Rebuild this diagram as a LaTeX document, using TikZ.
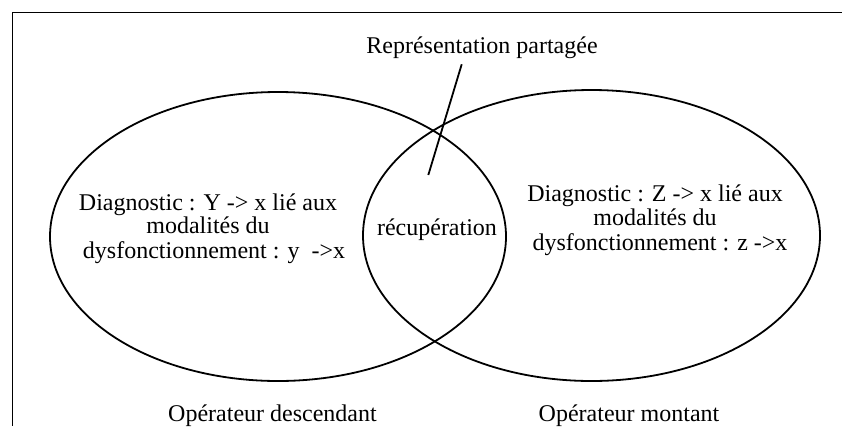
\documentclass[tikz,border=0pt]{standalone}
\usepackage{fontspec}
\setmainfont{Liberation Serif}
\begin{document}
\begin{tikzpicture}[x=1pt,y=-1pt,
  stroke/.style={line width=1.8pt,black},
  lbl/.style={inner sep=0pt,anchor=base,font=\fontsize{24}{24}\selectfont}]
\useasboundingbox (0,0) rectangle (842,426);
% frame
\draw[stroke] (842,12.5) -- (12.5,12.5) -- (12.5,426);
% ellipses
\draw[stroke] (278,236.5) ellipse [x radius=228, y radius=144.5];
\draw[stroke] (591.5,235.5) ellipse [x radius=228.5, y radius=145.5];
% texts
\node[lbl] (shared) at (482,53) {Représentation partagée};
\coordinate (ptr1) at (461.7,64.3);
\coordinate (ptr2) at (428.3,175);
\draw[stroke] (ptr1) -- (ptr2);
\node[lbl] (recup) at (437,235) {récupération};
\node[lbl] (l1) at (208,210) {Diagnostic : Y -> x lié aux};
\node[lbl] (l2) at (208,233) {modalités du};
\node[lbl] (l3) at (214,258) {dysfonctionnement : y \ ->x};
\node[lbl] (r1) at (655,201) {Diagnostic : Z -> x lié aux};
\node[lbl] (r2) at (655,225) {modalités du};
\node[lbl] (r3) at (660,250) {dysfonctionnement : z ->x};
\node[lbl] (opd) at (272.5,421) {Opérateur descendant};
\node[lbl] (opm) at (629,421) {Opérateur montant};
\end{tikzpicture}
\end{document}
